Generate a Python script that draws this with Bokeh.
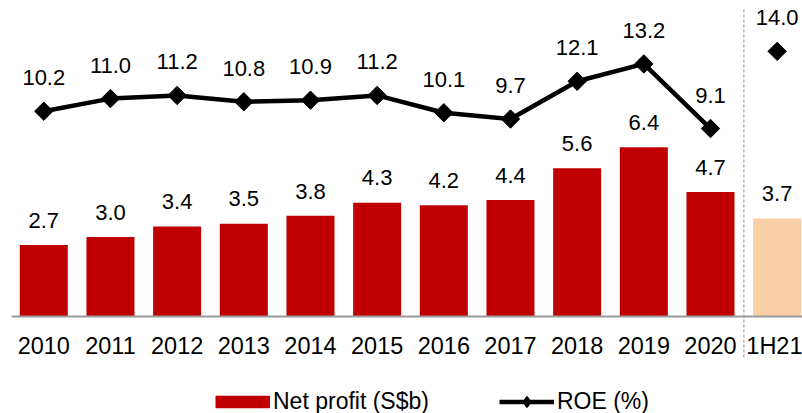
import math
from bokeh.plotting import figure
from bokeh.models import ColumnDataSource, Range1d, FixedTicker, Legend, LegendItem
from bokeh.core.properties import value
from bokeh.embed import file_html
from bokeh.resources import INLINE

# ---- data ----
categories = ["2010", "2011", "2012", "2013", "2014", "2015", "2016",
              "2017", "2018", "2019", "2020", "1H21"]
net_profit = [2.7, 3.0, 3.4, 3.5, 3.8, 4.3, 4.2, 4.4, 5.6, 6.4, 4.7, 3.7]
roe = [10.2, 11.0, 11.2, 10.8, 10.9, 11.2, 10.1, 9.7, 12.1, 13.2, 9.1, 14.0]
n_full_years = 11  # 2010-2020; 1H21 is the half-year period

FONT = "Liberation Sans"
RED = "#C00000"
PEACH = "#F8CFA7"

xs = list(range(len(categories)))

full = ColumnDataSource(dict(
    x=xs[:n_full_years],
    np=net_profit[:n_full_years],
    roe=roe[:n_full_years],
    np_lbl=[f"{v:.1f}" for v in net_profit[:n_full_years]],
    roe_lbl=[f"{v:.1f}" for v in roe[:n_full_years]],
))
half = ColumnDataSource(dict(
    x=xs[n_full_years:],
    np=net_profit[n_full_years:],
    roe=roe[n_full_years:],
    np_lbl=[f"{v:.1f}" for v in net_profit[n_full_years:]],
    roe_lbl=[f"{v:.1f}" for v in roe[n_full_years:]],
))
# empty source for legend-only proxy glyphs
proxy = ColumnDataSource(dict(x=[float("nan")], y=[float("nan")]))

Y_TOP = 11.655
p = figure(width=802, height=413, output_backend="svg", toolbar_location=None,
           x_range=Range1d(-0.4845, 11.38), y_range=Range1d(-3.686, Y_TOP),
           y_axis_location=None,
           min_border_left=11, min_border_right=0, min_border_top=8, min_border_bottom=0)
p.extra_y_ranges = {"roe": Range1d(-8.994, 16.72)}
p.outline_line_color = None
p.xgrid.visible = False
p.ygrid.visible = False

# dashed separator between full years and the half year
sep = n_full_years - 0.5
p.segment(x0=[sep], y0=[-1.564], x1=[sep], y1=[Y_TOP],
          line_color="#B4B4B4", line_width=1.5, line_dash="3 2")

# bars
bars = p.vbar(x="x", top="np", width=0.72, bottom=0, source=full,
              fill_color=RED, line_color=None)
p.vbar(x="x", top="np", width=0.72, bottom=0, source=half,
       fill_color=PEACH, line_color=None)

# ROE line + markers
roe_line = p.line(x="x", y="roe", source=full, line_color="black",
                  line_width=4.5, y_range_name="roe")
p.scatter(x="x", y="roe", source=full, marker="square", angle=math.pi / 4,
          size=13, fill_color="black", line_color="black", y_range_name="roe")
p.scatter(x="x", y="roe", source=half, marker="square", angle=math.pi / 4,
          size=13, fill_color="black", line_color="black", y_range_name="roe")

# legend swatches (legend-only glyphs, nothing drawn in the plot)
sw_bar = p.line(x="x", y="y", source=proxy, line_color=RED, line_width=12.3,
                line_cap="butt")
sw_pt = p.scatter(x="x", y="y", source=proxy, marker="diamond", size=10,
                  fill_color="black", line_color="black", line_width=1.5)

# data labels
for src in (full, half):
    p.text(x="x", y="np", text="np_lbl", source=src, text_align="center",
           text_baseline="middle", y_offset=-24.8,
           text_font=value(FONT), text_font_size="22px", text_color="black")
    p.text(x="x", y="roe", text="roe_lbl", source=src, text_align="center",
           text_baseline="middle", y_offset=-33.5, y_range_name="roe",
           text_font=value(FONT), text_font_size="22px", text_color="black")

# x axis
ax = p.xaxis[0]
ax.fixed_location = 0
ax.ticker = FixedTicker(ticks=xs)
ax.major_label_overrides = {i: c for i, c in zip(xs, categories)}
ax.axis_line_color = "#999999"
ax.axis_line_width = 2
ax.major_tick_line_color = None
ax.minor_tick_line_color = None
ax.major_label_standoff = 11
ax.major_label_text_font = FONT
ax.major_label_text_font_size = "23.5px"
ax.major_label_text_color = "black"

legend = Legend(items=[LegendItem(label="Net profit (S$b)", renderers=[sw_bar]),
                       LegendItem(label="ROE (%)", renderers=[roe_line, sw_pt])],
                orientation="horizontal", location=(204, -1.5), padding=0, margin=0,
                spacing=70, glyph_width=55, glyph_height=27, label_standoff=3,
                label_text_font=FONT, label_text_font_size="23px",
                label_text_color="black",
                border_line_color=None, background_fill_alpha=0)
p.add_layout(legend, "center")

open("out.html", "w").write(file_html(p, INLINE))
